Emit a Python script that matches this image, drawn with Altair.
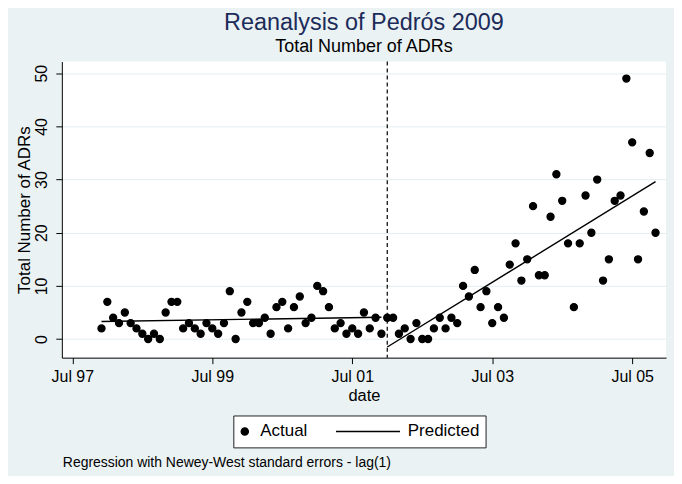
import altair as alt
import pandas as pd

TITLE = "Reanalysis of Pedrós 2009"
SUBTITLE = "Total Number of ADRs"
Y_TITLE = "Total Number of ADRs"
X_TITLE = "date"
NOTE = "Regression with Newey-West standard errors - lag(1)"
LEGEND_LABELS = ["Actual", "Predicted"]

# monthly observations, first one Dec 1997
FIRST_MONTH = "1997-12"
ADRS = [2, 7, 4, 3, 5, 3, 2, 1, 0, 1,
        0, 5, 7, 7, 2, 3, 2, 1, 3, 2,
        1, 3, 9, 0, 5, 7, 3, 3, 4, 1,
        6, 7, 2, 6, 8, 3, 4, 10, 9, 6,
        2, 3, 1, 2, 1, 5, 2, 4, 1, 4,
        4, 1, 2, 0, 3, 0, 0, 2, 4, 2,
        4, 3, 10, 8, 13, 6, 9, 3, 6, 4,
        14, 18, 11, 15, 25, 12, 12, 23, 31, 26,
        18, 6, 18, 27, 20, 30, 11, 15, 26, 27,
        49, 37, 15, 24, 35, 20]

PRED_MONTHS = ["1997-12", "2001-12", "2002-01", "2005-11"]
PRED_VALUES = [3.3, 4.1, -1.5, 29.6]
PRED_SEGMENT = ["pre", "pre", "post", "post"]

BREAK_MONTH = ["2002-01"]

TICK_MONTHS = ["1997-07", "1999-07", "2001-07", "2003-07", "2005-07"]
TICK_LABELS = ["Jul 97", "Jul 99", "Jul 01", "Jul 03", "Jul 05"]
Y_TICKS = [0, 10, 20, 30, 40, 50]
X_DOMAIN = [448.2, 551.8]
Y_DOMAIN = [-3.5, 52.2]

FONT = "Liberation Sans"


def mindex(s):
    y, m = s.split("-")
    return (int(y) - 1960) * 12 + int(m) - 1


first = mindex(FIRST_MONTH)
actual_df = pd.DataFrame({
    "m": [first + i for i in range(len(ADRS))],
    "adrs": ADRS,
    "series": ["Actual"] * len(ADRS),
})
pred_df = pd.DataFrame({
    "m": [mindex(s) for s in PRED_MONTHS],
    "adrs": PRED_VALUES,
    "segment": PRED_SEGMENT,
})
break_df = pd.DataFrame({"m": [mindex(s) for s in BREAK_MONTH]})
note_df = pd.DataFrame({"note": [NOTE]})

tick_vals = [mindex(s) for s in TICK_MONTHS]
label_expr = "{" + ", ".join(f"'{v}': '{l}'" for v, l in zip(tick_vals, TICK_LABELS)) + "}[datum.value]"

x_enc = alt.X(
    "m:Q",
    scale=alt.Scale(domain=X_DOMAIN, nice=False, zero=False),
    axis=alt.Axis(values=tick_vals, labelExpr=label_expr, title=X_TITLE, grid=False,
                  tickSize=6, labelPadding=5, titlePadding=3, labelFlush=False,
                  labelOverlap=False),
)
y_enc = alt.Y(
    "adrs:Q",
    scale=alt.Scale(domain=Y_DOMAIN, nice=False, zero=False),
    axis=alt.Axis(values=Y_TICKS, title=Y_TITLE, grid=True, gridColor="#E3EEF0",
                  tickSize=6, labelAngle=270, labelAlign="center", labelBaseline="alphabetic",
                  labelPadding=9, titlePadding=0, titleFontSize=17),
)

legend = alt.Legend(
    title=None, orient="none", legendX=172, legendY=355, direction="horizontal",
    fillColor="white", strokeColor="#222222", padding=6, labelFontSize=17, labelFont=FONT,
    labelColor="black", labelOffset=7, columnPadding=28, clipHeight=20, symbolOffset=-3,
)

points = alt.Chart(actual_df).mark_point(
    filled=True, color="black", opacity=1, stroke="black", strokeWidth=1.3
).encode(
    x=x_enc,
    y=y_enc,
    shape=alt.Shape("series:N", scale=alt.Scale(domain=LEGEND_LABELS, range=["circle", "stroke"]),
                    legend=legend),
    size=alt.Size("series:N", scale=alt.Scale(domain=LEGEND_LABELS, range=[50, 4400]),
                  legend=legend),
)

lines = alt.Chart(pred_df).mark_line(color="black", strokeWidth=1.4).encode(
    x="m:Q", y="adrs:Q", detail="segment:N"
)

rule = alt.Chart(break_df).mark_rule(color="black", strokeDash=[4, 3], strokeWidth=1.2).encode(
    x="m:Q"
)

note = alt.Chart(note_df).mark_text(
    align="left", baseline="middle", fontSize=14, font=FONT, color="black"
).encode(x=alt.value(1), y=alt.value(402.5), text="note:N")

chart = alt.layer(rule, lines, points, note).properties(
    width=606,
    height=297,
    autosize=alt.AutoSizeParams(type="none"),
    padding={"left": 54, "top": 53, "right": 8, "bottom": 118},
    background="#EAF2F3",
    title=alt.Title(TITLE, subtitle=SUBTITLE, fontSize=23.5, subtitleFontSize=18, font=FONT,
                    subtitleFont=FONT, color="#1C2B5A", subtitleColor="black",
                    fontWeight="normal", anchor="middle", offset=5, subtitlePadding=4),
).configure_view(
    fill="white", stroke=None
).configure_axis(
    labelFont=FONT, titleFont=FONT, labelFontSize=16, titleFontSize=16.5,
    titleFontWeight="normal", labelColor="black", titleColor="black",
    domainColor="black", tickColor="black", domainWidth=1, tickWidth=1,
)

chart.save("out.html", embed_options={"renderer": "svg", "actions": False})
